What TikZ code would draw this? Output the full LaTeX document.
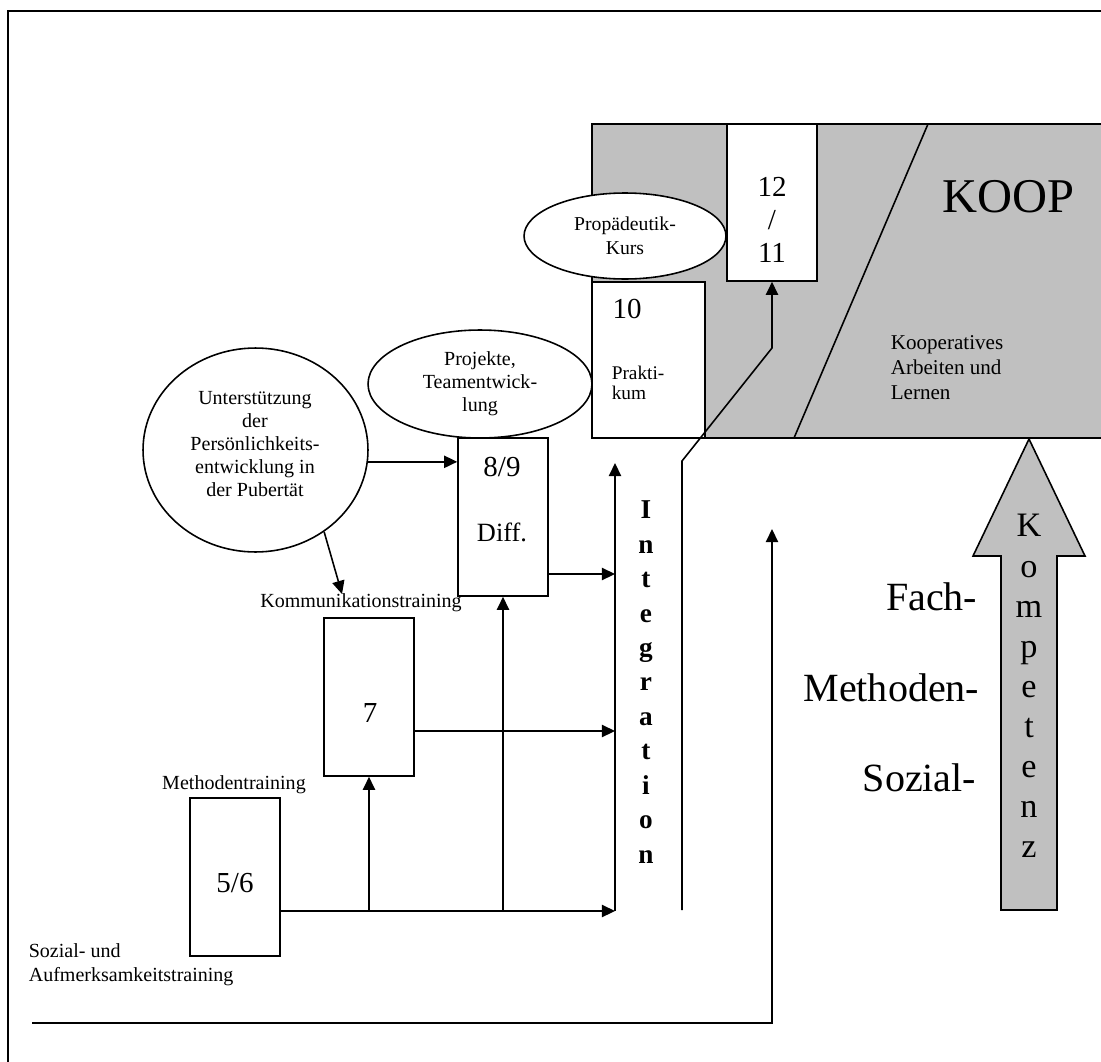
\documentclass[tikz,border=0pt]{standalone}
\usepackage{fontspec}
\setmainfont{Liberation Serif}
\usetikzlibrary{arrows.meta,shapes.geometric}
\definecolor{koopgray}{HTML}{C0C0C0}
\begin{document}
\begin{tikzpicture}[x=0.02cm,y=-0.02cm, line width=0.9pt,
  box/.style={draw, fill=white, inner sep=0pt},
  oval/.style={draw, fill=white, ellipse, inner sep=0pt, align=center, font=\fontsize{11.4}{13.2}\selectfont},
  lbl/.style={inner sep=0pt, font=\fontsize{11.4}{13.6}\selectfont},
  num/.style={inner sep=0pt, font=\fontsize{16.5}{19}\selectfont},
  big/.style={inner sep=0pt, font=\fontsize{22.8}{26}\selectfont},
  arr/.style={-{Triangle[length=7.5pt,width=7pt]}},
]
\useasboundingbox (0,0) rectangle (1101,1061);
\clip (0,0) rectangle (1101,1061);
% outer frame
\draw (8,1100) -- (8,11) -- (1120,11);
% KOOP area
\draw[fill=koopgray] (592,124) rectangle (1130,438);
\draw (928,124) -- (794,438);
\node[inner sep=0pt, font=\fontsize{27.6}{30}\selectfont] (koop) at (1008,197) {KOOP};
\node[inner sep=0pt, anchor=west, align=left, font=\fontsize{12}{14.2}\selectfont] (koopt) at (890,368) {Kooperatives\\Arbeiten und\\Lernen};
% boxes
\node[box, minimum width=1.8cm, minimum height=3.14cm] (b1211) at (772,202.5) {};
\node[num, align=center] (t1211) at (772,220) {12\\/\\11};
\node[box, minimum width=2.26cm, minimum height=3.12cm] (b10) at (648.5,360) {};
\node[num] (t10) at (627,309) {10};
\node[lbl, anchor=west, align=left, font=\fontsize{11}{11.6}\selectfont] (tprak) at (611,383) {Prakti-\\kum};
\node[oval, minimum width=4.04cm, minimum height=1.72cm, font=\fontsize{11.2}{13.7}\selectfont] (epk) at (625,236) {Propädeutik-\\Kurs};
\node[oval, minimum width=4.48cm, minimum height=2.16cm] (ept) at (480,384) {Projekte,\\Teamentwick-\\lung};
\node[box, minimum width=1.8cm, minimum height=3.16cm] (b89) at (503,517) {};
\node[num] (t89) at (502,467) {8/9};
\node[inner sep=0pt, font=\fontsize{15}{17}\selectfont] (tdiff) at (502,532) {Diff.};
\node[oval, minimum width=4.5cm, minimum height=4.08cm] (eu) at (255.5,450) {};
\node[lbl, align=center, font=\fontsize{11.4}{13.1}\selectfont] (tu) at (255,444) {Unterstützung\\der\\Persönlichkeits-\\entwicklung in\\der Pubertät};
\node[box, minimum width=1.8cm, minimum height=3.16cm] (b7) at (369,697) {};
\node[num] (t7) at (370,713) {7};
\node[box, minimum width=1.8cm, minimum height=3.16cm] (b56) at (235,877) {};
\node[num] (t56) at (235,883) {5/6};
% labels
\node[lbl] (kom) at (361,603) {Kommunikationstraining};
\node[lbl] (met) at (234,785) {Methodentraining};
\node[lbl, anchor=west, align=left] (soz) at (28,965) {Sozial- und\\Aufmerksamkeitstraining};
\node[big, anchor=east] (fach) at (978,597) {Fach-};
\node[big, anchor=east] (meth) at (980,688) {Methoden-};
\node[big, anchor=east] (sozk) at (977,778) {Sozial-};
% coordinates
\coordinate (iB) at (615,911);
\coordinate (iT) at (615,463);
\coordinate (i7) at (615,731);
\coordinate (i89) at (615,574);
\coordinate (kTip) at (342,594);
\coordinate (dA) at (682,910);
\coordinate (dB) at (682,461);
\coordinate (dC) at (772,348);
\coordinate (bA) at (32,1023);
\coordinate (bB) at (772,1023);
\coordinate (bC) at (772,529);
% connectors
\draw[arr] (b56.east |- iB) -- (iB);
\draw[arr] (iB) -- (iT);
\draw[arr] (b7.south |- iB) -- (b7.south);
\draw[arr] (b89.south |- iB) -- (b89.south);
\draw[arr] (b7.east |- i7) -- (i7);
\draw[arr] (b89.east |- i89) -- (i89);
\draw[arr] (eu.-6) -- (eu.-6 -| b89.west);
\draw[arr] (eu.-50) -- (kTip);
\draw[arr] (dA) -- (dB) -- (dC) -- (b1211.south);
\draw[arr] (bA) -- (bB) -- (bC);
% Integration
\node[inner sep=0pt, align=center, font=\bfseries\fontsize{15.5}{19.6}\selectfont] (integ) at (646,682) {I\\n\\t\\e\\g\\r\\a\\t\\i\\o\\n};
% Kompetenz arrow
\draw[fill=koopgray] (1001,910) -- (1001,556) -- (973,556) -- (1029,439) -- (1085,556) -- (1057,556) -- (1057,910) -- cycle;
\node[inner sep=0pt, align=center, font=\fontsize{19.5}{22.8}\selectfont] (komp) at (1029,686) {K\\o\\m\\p\\e\\t\\e\\n\\z};
\end{tikzpicture}
\end{document}
